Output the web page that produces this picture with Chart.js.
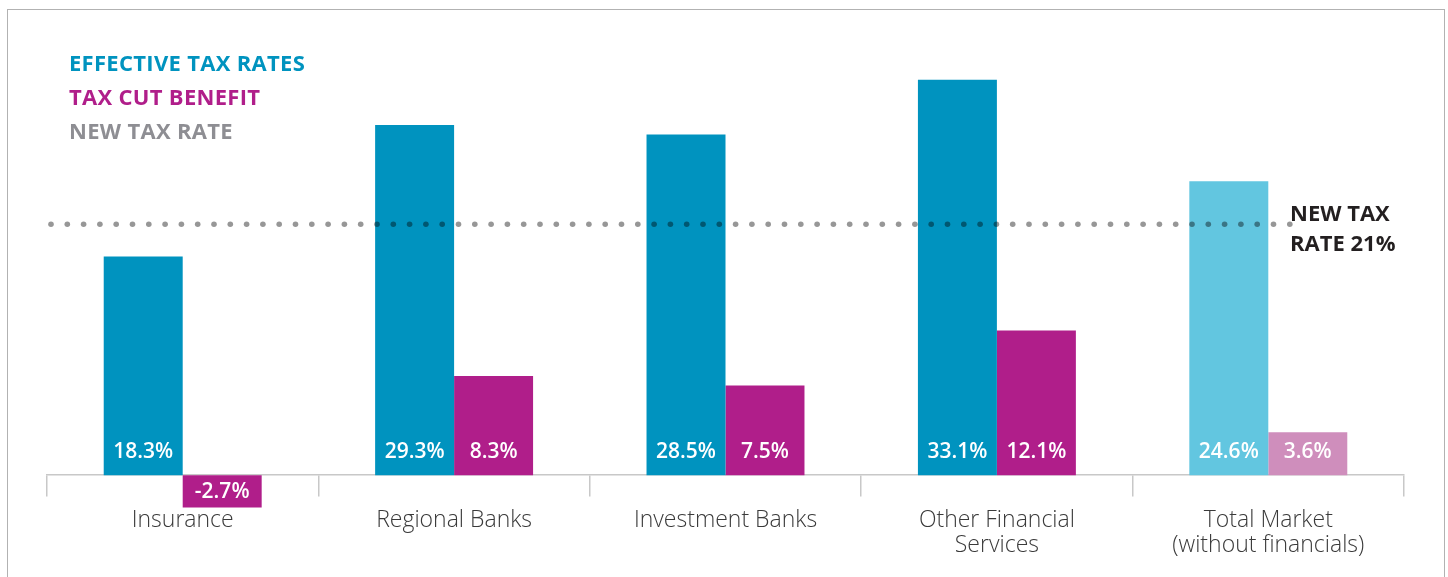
<!DOCTYPE html>
<html>
<head>
<meta charset="utf-8">
<title>Effective tax rates</title>
<script src="https://cdn.jsdelivr.net/npm/chart.js@4.4.0/dist/chart.umd.min.js"></script>
<style>
  body { margin: 0; background: #fff; }
  #wrap { position: relative; width: 1448px; height: 577px; overflow: hidden; }
  #frame {
    position: absolute; left: 7px; top: 9px; width: 1438px; height: 640px;
    border: 1.5px solid #b2b2b2; box-sizing: border-box;
  }
  #chart { position: absolute; left: 0; top: 0; }
  .key {
    position: absolute; left: 69px; top: 45px;
    font: 700 22px/34px "Open Sans", sans-serif; letter-spacing: 0.3px;
  }
</style>
</head>
<body>
<div id="wrap">
  <div id="frame"></div>
  <canvas id="chart" width="1448" height="577"></canvas>
  <div class="key">
    <div style="color:#0093bf">EFFECTIVE TAX RATES</div>
    <div style="color:#b01e8a">TAX CUT BENEFIT</div>
    <div style="color:#8e8e93">NEW TAX RATE</div>
  </div>
</div>
<script>
const categories = [
  'Insurance',
  'Regional Banks',
  'Investment Banks',
  ['Other Financial', 'Services'],
  ['Total Market', '(without financials)'],
];
const effectiveRates = [18.3, 29.3, 28.5, 33.1, 24.6];
const taxCutBenefit = [-2.7, 8.3, 7.5, 12.1, 3.6];
const newTaxRate = 21;

// last group (total market) uses the lighter shades
const blueColors = ['#0093bf', '#0093bf', '#0093bf', '#0093bf', '#62c6e0'];
const magentaColors = ['#b01e8a', '#b01e8a', '#b01e8a', '#b01e8a', '#cf8ebc'];

// white value labels sitting at the foot of each bar
const barLabels = {
  id: 'barLabels',
  afterDatasetsDraw(chart) {
    const ctx = chart.ctx;
    ctx.save();
    ctx.font = '600 21px "Open Sans"';
    ctx.fillStyle = '#fff';
    ctx.textAlign = 'center';
    ctx.textBaseline = 'middle';
    chart.data.datasets.forEach((ds, i) => {
      chart.getDatasetMeta(i).data.forEach((bar, j) => {
        const v = ds.data[j];
        const y = v >= 0 ? bar.base - 23 : (bar.y + bar.base) / 2 + 1;
        ctx.fillText(v.toFixed(1) + '%', bar.x, y);
      });
    });
    ctx.restore();
  }
};

// dotted reference line for the new rate, plus its note
const newRateLine = {
  id: 'newRateLine',
  afterDatasetsDraw(chart) {
    const area = chart.chartArea;
    const y = chart.scales.y.getPixelForValue(newTaxRate);
    const ctx = chart.ctx;
    ctx.save();
    ctx.globalCompositeOperation = 'multiply';
    ctx.fillStyle = '#979797';
    for (let x = area.left + 4; x < 1292; x += 16.3) {
      ctx.beginPath();
      ctx.arc(x, y, 2.8, 0, Math.PI * 2);
      ctx.fill();
    }
    ctx.restore();
    ctx.save();
    ctx.font = '700 22px "Open Sans"';
    ctx.fillStyle = '#231f20';
    ctx.textAlign = 'left';
    ctx.textBaseline = 'middle';
    ctx.fillText('NEW TAX', 1290, y - 9);
    ctx.fillText('RATE ' + newTaxRate + '%', 1290, y + 21);
    ctx.restore();
  }
};

new Chart(document.getElementById('chart'), {
  type: 'bar',
  data: {
    labels: categories,
    datasets: [{
      label: 'Effective tax rates',
      data: effectiveRates,
      backgroundColor: blueColors,
    }, {
      label: 'Tax cut benefit',
      data: taxCutBenefit,
      backgroundColor: magentaColors,
    }]
  },
  options: {
    responsive: false,
    animation: false,
    devicePixelRatio: 1,
    layout: { padding: { left: 47, right: 44, top: 45, bottom: 66 } },
    categoryPercentage: 0.582,
    barPercentage: 1.0,
    plugins: { legend: { display: false }, tooltip: { enabled: false } },
    scales: {
      y: { display: false, min: -3, max: 36 },
      x: {
        position: { y: 0 },
        grid: {
          offset: true,
          drawOnChartArea: false,
          tickLength: 21,
          color: '#c8c8c8',
          lineWidth: 1.5,
        },
        border: { color: '#c8c8c8', width: 1.5 },
        ticks: {
          padding: 12,
          color: '#3a3a3a',
          font: { family: '"Open Sans"', size: 23, weight: '300', lineHeight: '25px' },
        },
      },
    },
  },
  plugins: [barLabels, newRateLine],
});
</script>
</body>
</html>
